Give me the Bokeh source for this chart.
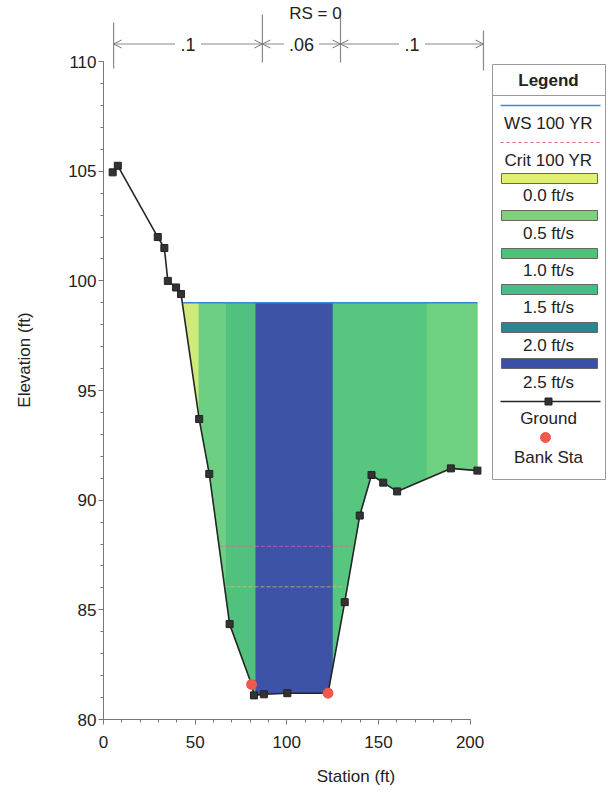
import numpy as np
from bokeh.plotting import figure
from bokeh.models import Range1d, SingleIntervalTicker, Arrow, OpenHead
from bokeh.core.properties import value
from bokeh.embed import file_html
from bokeh.resources import INLINE

# ---------------- data ----------------
ground_sta = [5.0, 7.8, 29.6, 33.2, 35.1, 39.6, 42.3, 52.2, 57.7, 68.8, 80.8, 82.1,
              87.5, 100.3, 122.5, 131.6, 139.8, 146.2, 152.6, 160.2, 189.5, 204.0]
ground_elev = [104.95, 105.25, 102.0, 101.5, 100.0, 99.7, 99.4, 93.7, 91.2, 84.35, 81.6, 81.1,
               81.15, 81.2, 81.2, 85.35, 89.3, 91.15, 90.8, 90.4, 91.45, 91.35]
bank_sta = [80.8, 122.5]
ws_elev = 99.0
crit_elev = 87.9
crit2_elev = 86.05
band_breaks = [52.0, 66.7, 83.0, 125.2, 176.5]          # interior velocity band boundaries
band_colors = ["#cfe97a", "#6dcf84", "#50c27d", "#3d53a8", "#57c67e", "#6fd082"]
legend_vel_labels = ["0.0 ft/s", "0.5 ft/s", "1.0 ft/s", "1.5 ft/s", "2.0 ft/s", "2.5 ft/s"]
legend_vel_colors = ["#e2f070", "#7ad27c", "#4fc27a", "#44bd88", "#2b8590", "#3a50a8"]
n_values = [".1", ".06", ".1"]
n_break_sta = [5.5, 86.7, 129.3, 207.3]
rs_label = "RS = 0"
x_ticks_interval = 50
y_ticks_interval = 5

# ---------------- layout ----------------
W, H = 608, 794
BL, BR, BT, BB = 103, 0, 0, 75
FW, FH = W - BL - BR, H - BT - BB
XPX = 1.833            # px per ft (station)
YPX = 21.93            # px per ft (elevation)
XR = FW / XPX
YT = 80 + FH / YPX
FONT = value("Liberation Sans")


def px2x(px):
    return (px - BL) / XPX


def px2y(py):
    return YT - (py - BT) / YPX


p = figure(width=W, height=H, x_range=Range1d(0, XR), y_range=Range1d(80, YT),
           output_backend="svg", toolbar_location=None,
           min_border_left=BL, min_border_right=BR, min_border_top=BT, min_border_bottom=BB,
           x_axis_label="Station (ft)", y_axis_label="Elevation (ft)")
p.outline_line_color = None
p.grid.visible = False
p.background_fill_color = "white"
p.border_fill_color = "white"

for ax, iv, b in ((p.xaxis, x_ticks_interval, (0, 200)), (p.yaxis, y_ticks_interval, (80, 110))):
    ax.ticker = SingleIntervalTicker(interval=iv, num_minor_ticks=5)
    ax.bounds = b
    ax.axis_line_color = "#777"
    ax.major_tick_line_color = "#777"
    ax.minor_tick_line_color = "#777"
    ax.major_tick_out = 5
    ax.major_tick_in = 0
    ax.minor_tick_out = 3
    ax.minor_tick_in = 0
    ax.major_label_text_font = "Liberation Sans"
    ax.major_label_text_font_size = "17px"
    ax.major_label_text_color = "#222"
    ax.axis_label_text_font = "Liberation Sans"
    ax.axis_label_text_font_size = "17px"
    ax.axis_label_text_font_style = "normal"
    ax.axis_label_text_color = "#222"
p.xaxis.major_label_standoff = 11
p.xaxis.axis_label_standoff = 16
p.yaxis.major_label_standoff = 2
p.yaxis.axis_label_standoff = 31

gs = np.array(ground_sta)
ge = np.array(ground_elev)


def crossings(elev):
    out = []
    for i in range(len(gs) - 1):
        a, b = ge[i] - elev, ge[i + 1] - elev
        if a == 0:
            out.append(gs[i])
        elif a * b < 0:
            out.append(gs[i] + (elev - ge[i]) / (ge[i + 1] - ge[i]) * (gs[i + 1] - gs[i]))
    return out


# water extent
ws_cross = crossings(ws_elev)
water_left = ws_cross[0]
water_right = ws_cross[1] if len(ws_cross) > 1 else gs[-1]

edges = [water_left] + band_breaks + [water_right]
xs_list, ys_list = [], []
for a, b in zip(edges[:-1], edges[1:]):
    xs = [a] + [s for s in ground_sta if a < s < b] + [b]
    yb = np.minimum(np.interp(xs, gs, ge), ws_elev)
    xs_list.append(list(xs) + [b, a])
    ys_list.append(list(yb) + [ws_elev, ws_elev])
p.patches(xs_list, ys_list, fill_color=band_colors, line_color=band_colors, line_width=0.5)

# critical lines
for elev, col in ((crit_elev, "#d86a8e"), (crit2_elev, "#d6c35a")):
    c = crossings(elev)
    p.line([c[0], c[-1]], [elev, elev], line_color=col, line_dash="4 2", line_width=1, line_alpha=0.75)

# water surface
p.line([water_left, water_right], [ws_elev, ws_elev], line_color="#3d86d6", line_width=1.5)

# ground
p.line(ground_sta, ground_elev, line_color="#262626", line_width=1.6)
p.scatter(ground_sta, ground_elev, marker="square", size=7, fill_color="#333", line_color="#222")
p.scatter(bank_sta, list(np.interp(bank_sta, gs, ge)), marker="circle", size=10,
          fill_color="#ef5a4c", line_color="#ef5a4c")

# ---------------- n-value annotation ----------------
ny = px2y(43.5)
bar_top = [px2y(22), px2y(14), px2y(14), px2y(30)]
bar_bot = [px2y(68), px2y(62), px2y(62), px2y(70)]
p.segment(n_break_sta, bar_top, n_break_sta, bar_bot, line_color="#888", line_width=1.2)
gap = 13 / XPX
for i, t in enumerate(n_values):
    a, b = n_break_sta[i], n_break_sta[i + 1]
    m = (a + b) / 2
    g = gap * (1.0 + 0.35 * (len(t) - 2))
    p.add_layout(Arrow(end=OpenHead(size=8, line_color="#777", line_width=1),
                       x_start=m - g, y_start=ny, x_end=a, y_end=ny, line_color="#888", line_width=1))
    p.add_layout(Arrow(end=OpenHead(size=8, line_color="#777", line_width=1),
                       x_start=m + g, y_start=ny, x_end=b, y_end=ny, line_color="#888", line_width=1))
    p.text([m], [ny], text=[t], text_align="center", text_baseline="middle",
           text_font=FONT, text_font_size="18px", text_color="#222")

p.text([px2x(315)], [px2y(13)], text=[rs_label], text_align="center", text_baseline="middle",
       text_font=FONT, text_font_size="17px", text_color="#222")

# ---------------- legend ----------------
LX0, LX1 = px2x(492), px2x(605)
LCX = px2x(548)
IX0, IX1 = px2x(500), px2x(600)
p.quad(left=[LX0], right=[LX1], top=[px2y(64)], bottom=[px2y(479)],
       fill_color="white", line_color="#999", line_width=1)
p.segment([LX0], [px2y(95)], [LX1], [px2y(95)], line_color="#999", line_width=1)
p.text([LCX], [px2y(80)], text=["Legend"], text_align="center", text_baseline="middle",
       text_font=FONT, text_font_size="17px", text_font_style="bold", text_color="#222")

p.line([IX0, IX1], [px2y(105)] * 2, line_color="#3d86d6", line_width=1.5)
p.line([IX0, IX1], [px2y(142)] * 2, line_color="#d86a6a", line_width=1, line_dash="3 3")

texts = ["WS 100 YR", "Crit 100 YR"] + legend_vel_labels + ["Ground", "Bank Sta"]
tys = [123, 160, 195, 233, 270, 307, 345, 382, 418, 457]
p.text([LCX] * len(texts), [px2y(v) for v in tys], text=texts, text_align="center",
       text_baseline="middle", text_font=FONT, text_font_size="17px", text_color="#222")

bar_y = [178, 215, 253, 289, 327, 363]
p.quad(left=[px2x(501)] * 6, right=[px2x(597)] * 6,
       top=[px2y(v - 5) for v in bar_y], bottom=[px2y(v + 5) for v in bar_y],
       fill_color=legend_vel_colors, line_color="#666", line_width=1)

p.line([IX0, IX1], [px2y(401)] * 2, line_color="#262626", line_width=1.6)
p.scatter([LCX], [px2y(401)], marker="square", size=7, fill_color="#333", line_color="#222")
p.scatter([px2x(545)], [px2y(437)], marker="circle", size=10, fill_color="#ef5a4c", line_color="#ef5a4c")

open("out.html", "w").write(file_html(p, INLINE))
